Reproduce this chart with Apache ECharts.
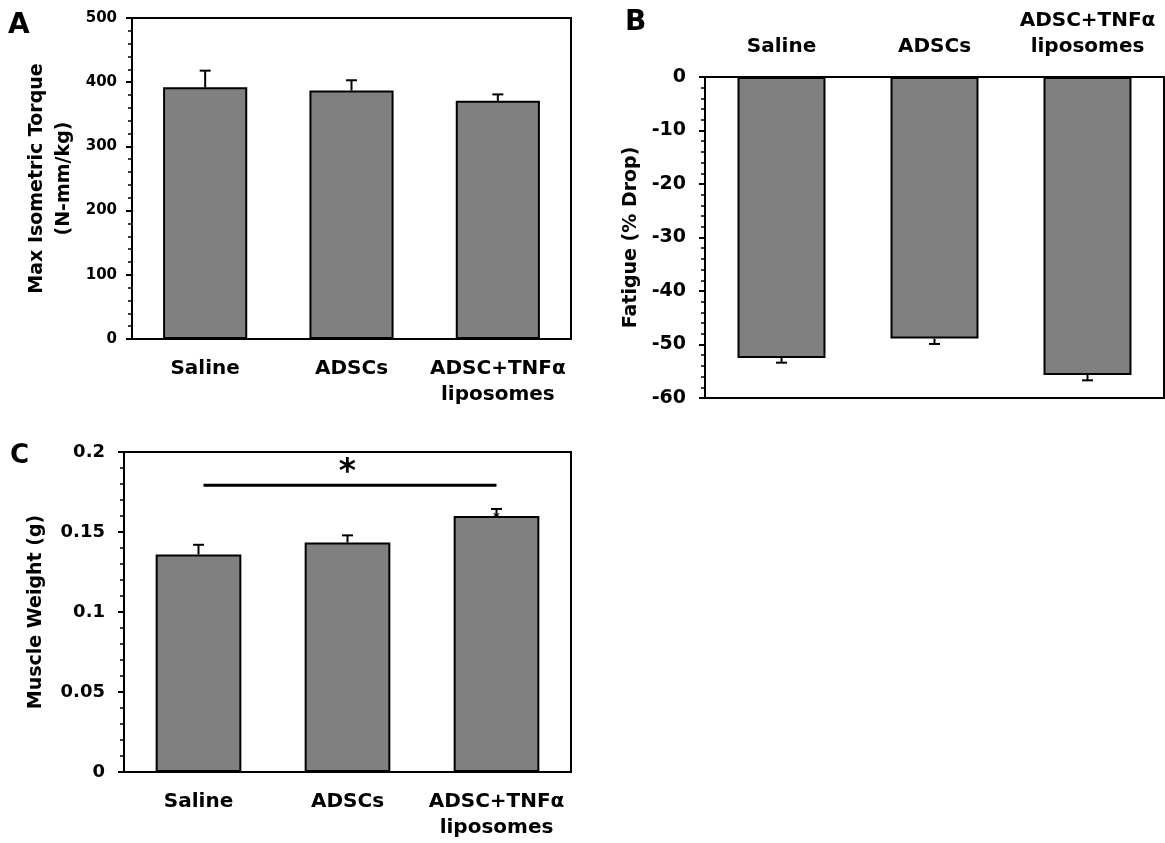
<!DOCTYPE html>
<html>
<head>
<meta charset="utf-8">
<script src="https://cdn.jsdelivr.net/npm/echarts@6/dist/echarts.min.js"></script>
<style>
html,body{margin:0;padding:0;background:#fff;}
#chart{width:1165px;height:843px;}
</style>
</head>
<body>
<div id="chart"></div>
<script>
// ---- data ----
const categories = ['Saline', 'ADSCs', 'ADSC+TNFα\nliposomes'];
const torqueValues = [392, 387, 371];
const torqueErrors = [26, 16, 10];
const fatigueValues = [-52.5, -48.9, -55.7];
const fatigueErrors = [0.9, 1.0, 1.0];
const weightValues = [0.136, 0.1434, 0.160];
const weightErrors = [0.006, 0.0045, 0.0044];
const torqueTicks = { min: 0, max: 500, interval: 100 };
const fatigueTicks = { min: -60, max: 0, interval: 10 };
const weightTicks = { min: 0, max: 0.2, interval: 0.05 };
const sigBracket = [[0, 2, 0.1792]];   // from category, to category, level
const sigLabel = '*';
const smallMark = [[2, 0.160]];

const FONT = 'DejaVu Sans';
const chart = echarts.init(document.getElementById('chart'), null, { renderer: 'canvas' });

function errData(vals, errs) { return vals.map((v, i) => [i, v, errs[i]]); }

function errRender(params, api) {
  const i = api.value(0), v = api.value(1), e = api.value(2);
  const dir = v < 0 ? -1 : 1;
  const p0 = api.coord([i, v]);
  const p1 = api.coord([i, v + dir * e]);
  return {
    type: 'group',
    children: [
      { type: 'line', shape: { x1: p0[0], y1: p0[1], x2: p1[0], y2: p1[1] }, style: { stroke: '#000', lineWidth: 2 } },
      { type: 'line', shape: { x1: p1[0] - 5.5, y1: p1[1], x2: p1[0] + 5.5, y2: p1[1] }, style: { stroke: '#000', lineWidth: 2 } }
    ]
  };
}

function xAxisDef(gi, pos) {
  return {
    gridIndex: gi, type: 'category', data: categories, position: pos,
    axisTick: { show: false },
    axisLine: { show: true, lineStyle: { color: '#000', width: 2 } },
    axisLabel: { color: '#000', fontFamily: FONT, fontWeight: 'bold', fontSize: 20, lineHeight: 26, margin: 17, interval: 0 }
  };
}
function yAxisDef(gi, ticks, name, nameGap, labelSize, labelMargin) {
  return {
    gridIndex: gi, type: 'value', min: ticks.min, max: ticks.max, interval: ticks.interval,
    name: name, nameLocation: 'middle', nameGap: nameGap, nameRotate: 90,
    nameTextStyle: { color: '#000', fontFamily: FONT, fontWeight: 'bold', fontSize: 19, lineHeight: 27 },
    axisLine: { show: true, lineStyle: { color: '#000', width: 2 } },
    axisTick: { show: true, inside: false, length: 6, lineStyle: { color: '#000', width: 2 } },
    minorTick: { show: true, splitNumber: 5, length: 4, lineStyle: { color: '#000', width: 1.5 } },
    splitLine: { show: false },
    minorSplitLine: { show: false },
    axisLabel: { color: '#000', fontFamily: FONT, fontWeight: 'bold', fontSize: labelSize, margin: labelMargin }
  };
}
function barDef(i, vals) {
  return {
    type: 'bar', xAxisIndex: i, yAxisIndex: i, data: vals, barWidth: '57.5%',
    itemStyle: { color: '#808080', borderColor: '#000', borderWidth: 2 },
    z: 2
  };
}
function errDef(i, vals, errs) {
  return { type: 'custom', xAxisIndex: i, yAxisIndex: i, data: errData(vals, errs), renderItem: errRender, z: 3, encode: { x: 0, y: 1 } };
}
const gridStyle = { show: true, borderColor: '#000', borderWidth: 2, backgroundColor: 'transparent' };

const option = {
  animation: false,
  backgroundColor: '#fff',
  grid: [
    Object.assign({ left: 132, top: 18, width: 439, height: 321 }, gridStyle),
    Object.assign({ left: 705, top: 77, width: 459, height: 321 }, gridStyle),
    Object.assign({ left: 124, top: 452, width: 447, height: 320 }, gridStyle)
  ],
  xAxis: [xAxisDef(0, 'bottom'), xAxisDef(1, 'top'), xAxisDef(2, 'bottom')],
  yAxis: [
    yAxisDef(0, torqueTicks, 'Max Isometric Torque\n(N-mm/kg)', 54, 15, 15),
    yAxisDef(1, fatigueTicks, 'Fatigue (% Drop)', 60, 19, 19),
    yAxisDef(2, weightTicks, 'Muscle Weight (g)', 74, 18, 19)
  ],
  series: [
    barDef(0, torqueValues), errDef(0, torqueValues, torqueErrors),
    barDef(1, fatigueValues), errDef(1, fatigueValues, fatigueErrors),
    barDef(2, weightValues), errDef(2, weightValues, weightErrors),
    {
      type: 'custom', xAxisIndex: 2, yAxisIndex: 2, data: sigBracket, z: 4,
      encode: { x: 0, y: 2 },
      renderItem: function (params, api) {
        const p0 = api.coord([api.value(0), api.value(2)]);
        const p1 = api.coord([api.value(1), api.value(2)]);
        const mid = (p0[0] + p1[0]) / 2;
        return {
          type: 'group', children: [
            { type: 'line', shape: { x1: p0[0] + 5, y1: p0[1], x2: p1[0], y2: p1[1] }, style: { stroke: '#000', lineWidth: 3 } },
            { type: 'text', x: mid, y: p0[1] + 5, style: { text: sigLabel, fill: '#000', font: 'bold 33px "DejaVu Sans"', textAlign: 'center', textVerticalAlign: 'bottom' } }
          ]
        };
      }
    },
    {
      type: 'custom', xAxisIndex: 2, yAxisIndex: 2, data: smallMark, z: 5,
      encode: { x: 0, y: 1 },
      renderItem: function (params, api) {
        const p = api.coord([api.value(0), api.value(1)]);
        return { type: 'text', x: p[0], y: p[1] + 2, style: { text: '*', fill: '#000', font: 'bold 13px "DejaVu Sans"', textAlign: 'center', textVerticalAlign: 'middle' } };
      }
    }
  ],
  graphic: [
    { type: 'text', left: 8, top: 12, style: { text: 'A', fill: '#000', font: 'bold 28px "DejaVu Sans"' } },
    { type: 'text', left: 625, top: 9, style: { text: 'B', fill: '#000', font: 'bold 28px "DejaVu Sans"' } },
    { type: 'text', left: 10, top: 443, style: { text: 'C', fill: '#000', font: 'bold 26px "DejaVu Sans"' } }
  ]
};
chart.setOption(option);
</script>
</body>
</html>
